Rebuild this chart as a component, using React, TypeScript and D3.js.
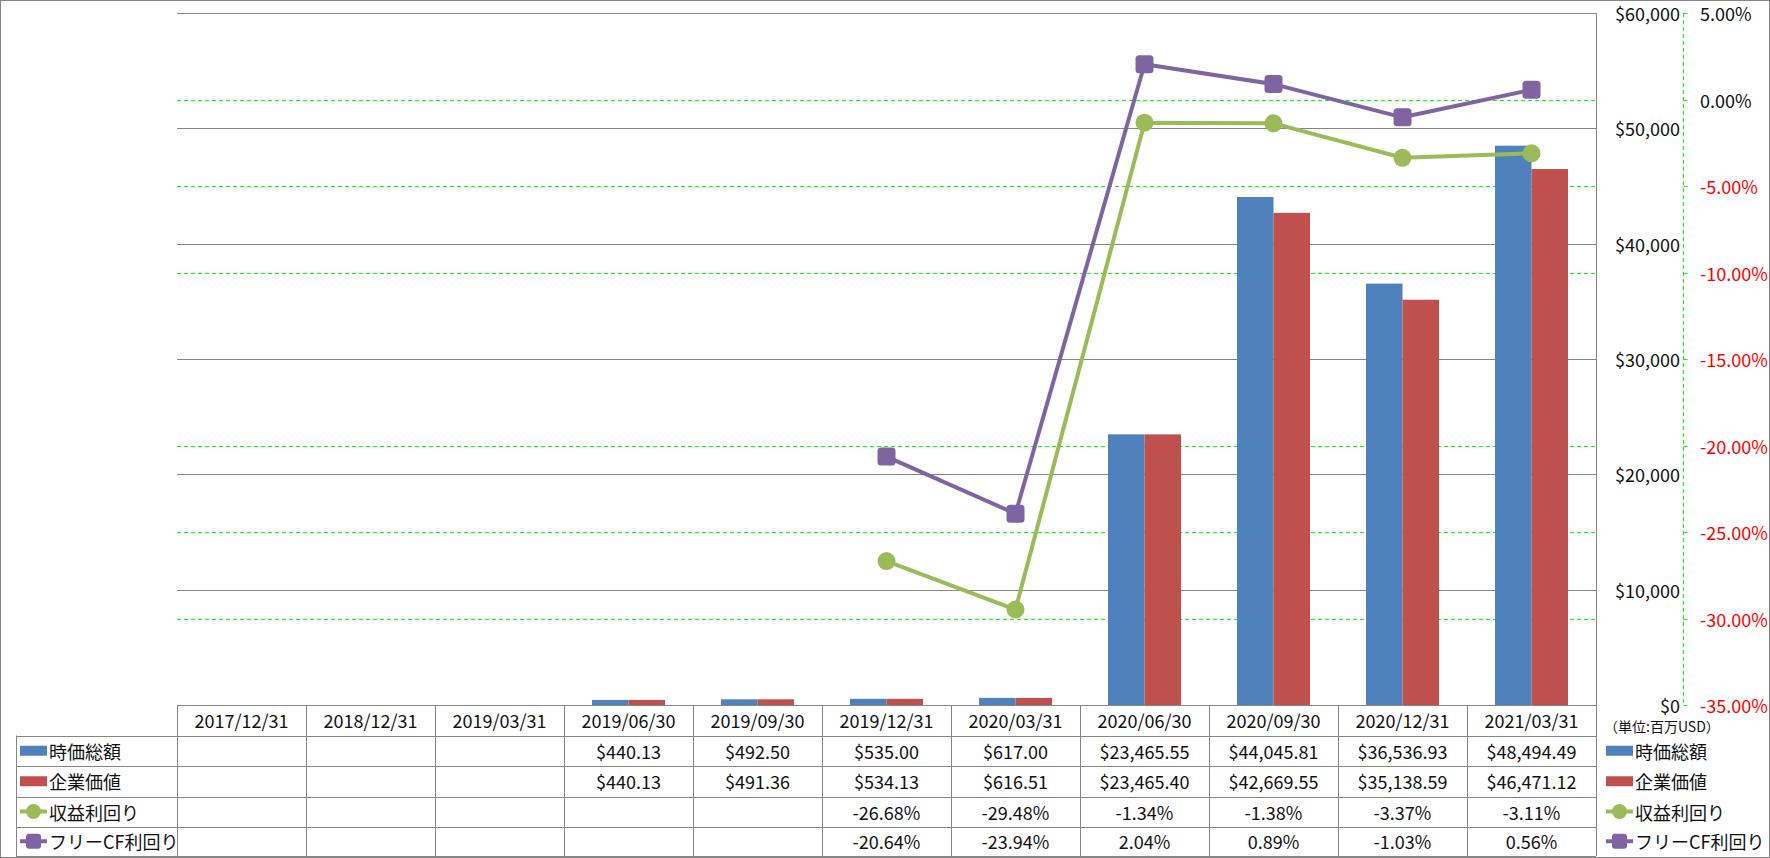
import React from 'react';
import * as d3 from 'd3';

const categories = ['2017/12/31', '2018/12/31', '2019/03/31', '2019/06/30', '2019/09/30', '2019/12/31', '2020/03/31', '2020/06/30', '2020/09/30', '2020/12/31', '2021/03/31'];
const marketCap: (number | null)[] = [null, null, null, 440.13, 492.5, 535.0, 617.0, 23465.55, 44045.81, 36536.93, 48494.49];
const enterpriseValue: (number | null)[] = [null, null, null, 440.13, 491.36, 534.13, 616.51, 23465.4, 42669.55, 35138.59, 46471.12];
const earningsYield: (number | null)[] = [null, null, null, null, null, -26.68, -29.48, -1.34, -1.38, -3.37, -3.11];
const fcfYield: (number | null)[] = [null, null, null, null, null, -20.64, -23.94, 2.04, 0.89, -1.03, 0.56];
const usdTicks = [0, 10000, 20000, 30000, 40000, 50000, 60000];
const pctTicks = [5, 0, -5, -10, -15, -20, -25, -30, -35];
const seriesNames = ['時価総額', '企業価値', '収益利回り', 'フリーCF利回り'];
const unitLabel = '（単位:百万USD）';

const W = 1770, H = 858;
const plotLeft = 177, plotRight = 1596, plotTop = 13, plotBottom = 705;
const rowYs = [705, 735.5, 766, 796.5, 826.5, 856];
const legendLeft = 16;
const FONT = "'Noto Sans CJK JP', 'Noto Sans', sans-serif";
const BLUE = '#4F81BD', RED = '#C0504D', GREEN = '#9BBB59', PURPLE = '#8064A2';
const GRID = '#868686';

const loc = d3.formatLocale({ decimal: '.', thousands: ',', grouping: [3], currency: ['$', ''], minus: '-' });
const fmtMoney = loc.format('$,.2f');
const fmtAxis = loc.format('$,.0f');
const fmtPct = (v: number) => loc.format('.2f')(v) + '%';

export default function App() {
  const x = d3.scaleBand<string>().domain(categories).range([plotLeft, plotRight]).paddingInner(0.434).paddingOuter(0.217);
  const xs = d3.scaleBand<number>().domain([0, 1]).range([0, x.bandwidth()]);
  const step = x.step();
  const catLeft = (i: number) => plotLeft + i * step;
  const cx = (i: number) => (x(categories[i]) as number) + x.bandwidth() / 2;
  const yL = d3.scaleLinear().domain([0, 60000]).range([plotBottom, plotTop]);
  const yR = d3.scaleLinear().domain([-35, 5]).range([plotBottom, plotTop]);

  const line = d3.line<number | null>()
    .defined(d => d != null)
    .x((_, i) => cx(i))
    .y(d => yR(d as number));

  const axisX = 1683.5;
  const rowCenter = (r: number) => (rowYs[r + 1] + rowYs[r + 2]) / 2;
  const tableRows: (number | null)[][] = [marketCap, enterpriseValue, earningsYield, fcfYield];

  const legendSymbol = (k: number, x0: number, y: number) => {
    if (k === 0) return <rect x={x0} y={y - 5} width={27} height={10} fill={BLUE} />;
    if (k === 1) return <rect x={x0} y={y - 5} width={27} height={10} fill={RED} />;
    if (k === 2) return (
      <g>
        <line x1={x0} x2={x0 + 27} y1={y} y2={y} stroke={GREEN} strokeWidth={4} />
        <circle cx={x0 + 13.5} cy={y} r={7.5} fill={GREEN} />
      </g>
    );
    return (
      <g>
        <line x1={x0} x2={x0 + 27} y1={y} y2={y} stroke={PURPLE} strokeWidth={4} />
        <rect x={x0 + 6} y={y - 7.5} width={15} height={15} rx={3} fill={PURPLE} />
      </g>
    );
  };

  return (
    <svg width={W} height={H} style={{ position: 'absolute', left: 0, top: 0, background: '#fff' }} fontFamily={FONT}>
      <rect x={0.5} y={0.5} width={W - 1} height={H - 1} fill="#fff" stroke={GRID} strokeWidth={1} />

      {/* secondary (percent) gridlines */}
      {pctTicks.filter(t => t !== 5 && t !== -35).map(t => (
        <line key={'pg' + t} x1={plotLeft} x2={plotRight} y1={Math.round(yR(t)) + 0.5} y2={Math.round(yR(t)) + 0.5}
          stroke="#00FF00" strokeWidth={1} strokeDasharray="4,3" />
      ))}
      {/* primary gridlines */}
      {usdTicks.map(t => (
        <line key={'ug' + t} x1={plotLeft} x2={plotRight} y1={Math.round(yL(t)) + 0.5} y2={Math.round(yL(t)) + 0.5}
          stroke={GRID} strokeWidth={1} />
      ))}

      {/* bars */}
      {categories.map((c, i) => (
        <g key={'b' + c}>
          {marketCap[i] != null && (
            <rect x={(x(c) as number) + (xs(0) as number)} y={yL(marketCap[i] as number)} width={xs.bandwidth()}
              height={plotBottom - yL(marketCap[i] as number)} fill={BLUE} />
          )}
          {enterpriseValue[i] != null && (
            <rect x={(x(c) as number) + (xs(1) as number)} y={yL(enterpriseValue[i] as number)} width={xs.bandwidth()}
              height={plotBottom - yL(enterpriseValue[i] as number)} fill={RED} />
          )}
        </g>
      ))}

      {/* lines */}
      <path d={line(earningsYield) || ''} fill="none" stroke={GREEN} strokeWidth={4} strokeLinejoin="round" strokeLinecap="round" />
      {earningsYield.map((v, i) => v == null ? null : (
        <circle key={'ey' + i} cx={cx(i)} cy={yR(v)} r={9} fill={GREEN} />
      ))}
      <path d={line(fcfYield) || ''} fill="none" stroke={PURPLE} strokeWidth={4} strokeLinejoin="round" strokeLinecap="round" />
      {fcfYield.map((v, i) => v == null ? null : (
        <rect key={'fc' + i} x={cx(i) - 9} y={yR(v) - 9} width={18} height={18} rx={3.5} fill={PURPLE} />
      ))}

      {/* right border of plot / table */}
      <line x1={plotRight + 0.5} x2={plotRight + 0.5} y1={plotTop} y2={rowYs[5]} stroke={GRID} strokeWidth={1} />

      {/* axes labels: primary */}
      {usdTicks.map(t => (
        <text key={'ul' + t} x={1680} y={yL(t)} textAnchor="end" dominantBaseline="central" fontSize={18} fill="#111">
          {fmtAxis(t)}
        </text>
      ))}
      {/* secondary axis line */}
      <line x1={axisX} x2={axisX} y1={plotTop} y2={plotBottom} stroke="#00FF00" strokeWidth={1} strokeDasharray="4,3" />
      {pctTicks.map(t => (
        <g key={'pl' + t}>
          <line x1={axisX} x2={axisX + 4} y1={Math.round(yR(t)) + 0.5} y2={Math.round(yR(t)) + 0.5} stroke="#00FF00" strokeWidth={1} />
          <text x={1700} y={yR(t)} textAnchor="start" dominantBaseline="central" fontSize={18} fill={t < 0 ? '#FF0000' : '#111'}>
            {fmtPct(t)}
          </text>
        </g>
      ))}
      <text x={1604} y={726} textAnchor="start" dominantBaseline="central" fontSize={14} fill="#111">{unitLabel}</text>

      {/* data table */}
      <line x1={plotLeft} x2={plotRight} y1={rowYs[0] + 0.5} y2={rowYs[0] + 0.5} stroke={GRID} />
      {rowYs.slice(1).map((y, k) => (
        <line key={'th' + k} x1={legendLeft} x2={plotRight} y1={Math.round(y) + 0.5} y2={Math.round(y) + 0.5} stroke={GRID} />
      ))}
      <line x1={legendLeft + 0.5} x2={legendLeft + 0.5} y1={rowYs[1]} y2={rowYs[5]} stroke={GRID} />
      {d3.range(categories.length).map(i => (
        <line key={'tv' + i} x1={Math.round(catLeft(i)) + 0.5} x2={Math.round(catLeft(i)) + 0.5} y1={rowYs[0]} y2={rowYs[5]} stroke={GRID} />
      ))}
      {categories.map((c, i) => (
        <text key={'hd' + c} x={catLeft(i) + step / 2} y={(rowYs[0] + rowYs[1]) / 2} textAnchor="middle" dominantBaseline="central" fontSize={18} fill="#111">
          {c}
        </text>
      ))}
      {tableRows.map((row, r) => row.map((v, i) => v == null ? null : (
        <text key={'td' + r + '-' + i} x={catLeft(i) + step / 2} y={rowCenter(r)} textAnchor="middle" dominantBaseline="central" fontSize={18} fill="#111">
          {r < 2 ? fmtMoney(v) : fmtPct(v)}
        </text>
      )))}

      {/* legends (left in table, right side) */}
      {seriesNames.map((name, k) => (
        <g key={'lg' + k}>
          {legendSymbol(k, 20, rowCenter(k))}
          <text x={49} y={rowCenter(k)} dominantBaseline="central" fontSize={18} fill="#111">{name}</text>
          {legendSymbol(k, 1606, rowCenter(k))}
          <text x={1635} y={rowCenter(k)} dominantBaseline="central" fontSize={18} fill="#111">{name}</text>
        </g>
      ))}
    </svg>
  );
}
